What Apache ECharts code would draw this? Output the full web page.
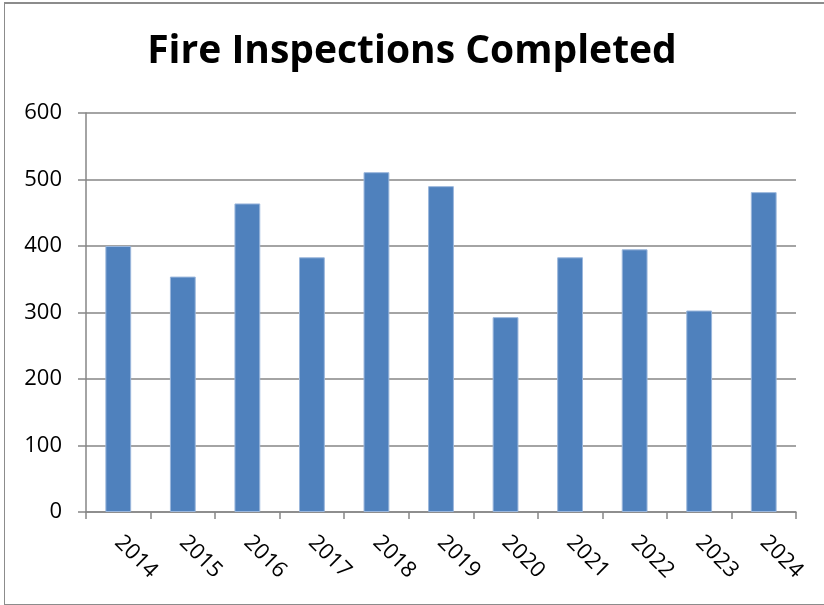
<!DOCTYPE html>
<html>
<head>
<meta charset="utf-8">
<script src="https://cdn.jsdelivr.net/npm/echarts@6/dist/echarts.min.js"></script>
<style>
  html, body { margin: 0; padding: 0; background: #fff; overflow: hidden; }
  #frame {
    position: absolute;
    left: 4px;
    top: 2px;
    width: 840px;
    height: 600px;
    border: 1px solid #8c8c8c;
    border-width: 2px 0 1px 1px;
  }
  #chart {
    position: absolute;
    left: 0;
    top: 0;
    width: 824px;
    height: 605px;
  }
</style>
</head>
<body>
<div id="frame"></div>
<div id="chart"></div>
<script>
const years = ['2014', '2015', '2016', '2017', '2018', '2019', '2020', '2021', '2022', '2023', '2024']
const inspections = [400, 354, 464, 383, 511, 490, 293, 383, 395, 303, 481]

const chart = echarts.init(document.getElementById('chart'))
chart.setOption({
  animation: false,
  title: {
    text: 'Fire Inspections Completed',
    left: 'center',
    top: 27,
    textStyle: {
      fontFamily: 'Open Sans',
      fontWeight: 'bold',
      fontSize: 39,
      color: '#000'
    }
  },
  grid: {
    left: 86,
    right: 28,
    top: 113,
    bottom: 93
  },
  xAxis: {
    type: 'category',
    data: years,
    boundaryGap: true,
    axisLine: { lineStyle: { color: '#868686', width: 1.5 } },
    axisTick: { show: true, length: 7, lineStyle: { color: '#868686', width: 1.5 } },
    axisLabel: {
      interval: 0,
      rotate: -45,
      margin: 27,
      fontFamily: 'Open Sans',
      fontSize: 22,
      color: '#000'
    }
  },
  yAxis: {
    type: 'value',
    min: 0,
    max: 600,
    interval: 100,
    axisLine: { show: true, lineStyle: { color: '#868686', width: 1.5 } },
    axisTick: { show: true, length: 8, lineStyle: { color: '#868686', width: 1.5 } },
    splitLine: { lineStyle: { color: '#868686', width: 1.5 } },
    axisLabel: {
      margin: 24,
      fontFamily: 'Open Sans',
      fontSize: 22,
      color: '#000'
    }
  },
  series: [
    {
      name: 'Inspections',
      type: 'bar',
      data: inspections,
      barWidth: '40%',
      itemStyle: {
        color: '#4F81BD',
        borderColor: '#9bb7dc',
        borderWidth: 1
      }
    }
  ]
})
</script>
</body>
</html>
